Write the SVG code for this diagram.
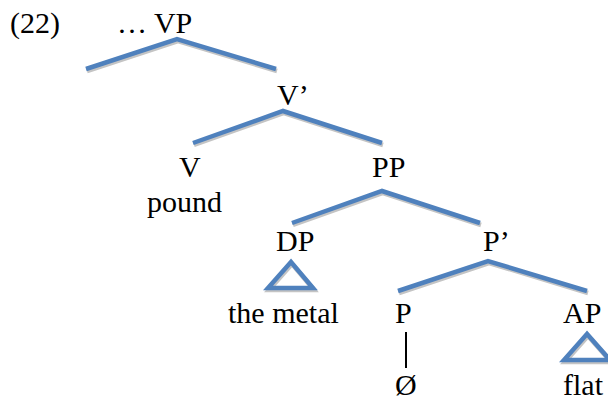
<svg xmlns="http://www.w3.org/2000/svg" width="608" height="403" viewBox="0 0 608 403">
<style>
text{font-family:"Liberation Serif","Times New Roman","DejaVu Serif",serif;font-size:30px;fill:#000}
.b{fill:none;stroke:#4F81BD;stroke-width:4.5;stroke-linejoin:miter}
.s{fill:none;stroke:#C4C4C4;stroke-width:4.5;stroke-linejoin:miter}
.k{stroke:#000;stroke-width:2}
</style>
<rect width="608" height="403" fill="#fff"/>
<g id="connectors">
  <g transform="translate(1,2)" class="s">
    <polyline points="86,69 177,39 276,69"/>
    <polyline points="193,143 283,111 382,143"/>
    <polyline points="292,223 382,191 480,223"/>
    <polyline points="398,291 488,261 587,291"/>
    <polygon points="291,262 268,288 313,288"/>
    <polygon points="587,334 564,360 610,360"/>
  </g>
  <g class="b">
    <polyline points="86,69 177,39 276,69"/>
    <polyline points="193,143 283,111 382,143"/>
    <polyline points="292,223 382,191 480,223"/>
    <polyline points="398,291 488,261 587,291"/>
    <polygon points="291,262 268,288 313,288"/>
    <polygon points="587,334 564,360 610,360"/>
  </g>
  <line class="k" x1="406" y1="332" x2="406" y2="368"/>
</g>
<g font-family="Liberation Serif, serif" font-size="30">
<g id="label"><text x="10" y="33">(22)</text></g>
<g id="VP"><text x="117" y="33">… VP</text></g>
<g id="Vbar"><text x="277" y="105">V’</text></g>
<g id="V"><text x="179" y="177">V</text><text x="147" y="212">pound</text></g>
<g id="PP"><text x="372" y="177">PP</text></g>
<g id="DP"><text x="276" y="251">DP</text><text x="228" y="323">the metal</text></g>
<g id="Pbar"><text x="483" y="251">P’</text></g>
<g id="P"><text x="395" y="323">P</text><text x="395" y="395">Ø</text></g>
<g id="AP"><text x="563" y="323">AP</text><text x="563" y="395">flat</text></g>
</g>
</svg>
